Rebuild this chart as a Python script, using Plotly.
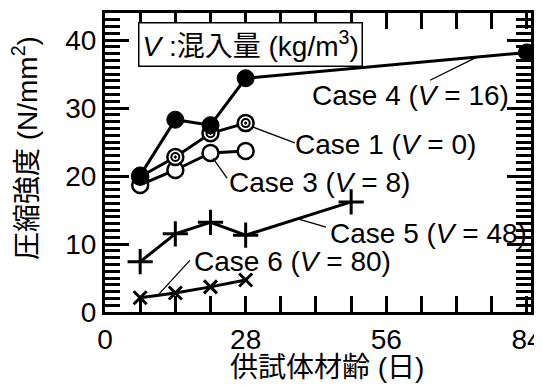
import plotly.graph_objects as go

# ---- data ----
case1_days = [7, 14, 21, 28]
case1_vals = [19.9, 22.8, 26.3, 27.8]
case3_days = [7, 14, 21, 28]
case3_vals = [18.7, 20.9, 23.4, 23.7]
case4_days = [7, 14, 21, 28, 84]
case4_vals = [20.1, 28.3, 27.5, 34.4, 38.2]
case5_days = [7, 14, 21, 28, 49]
case5_vals = [7.4, 11.5, 13.2, 11.3, 16.2]
case6_days = [7, 14, 21, 28]
case6_vals = [2.1, 2.8, 3.7, 4.7]

labels = ["Case 1", "Case 3", "Case 4", "Case 5", "Case 6"]
v_values = [0, 8, 16, 48, 80]

x_ticks = [0, 28, 56, 84]
y_ticks = [0, 10, 20, 30, 40]

FONT = "Liberation Sans, Arial, Noto Sans CJK JP"
BLACK = "black"
FS = 28

fig = go.Figure()

def add_series(xs, ys, symbol, size, fill, lw=2.5):
    fig.add_trace(go.Scatter(
        x=xs, y=ys, mode="lines+markers",
        line=dict(color=BLACK, width=3),
        marker=dict(symbol=symbol, size=size, color=fill,
                    line=dict(color=BLACK, width=lw)),
        showlegend=False, cliponaxis=False))

add_series(case3_days, case3_vals, "circle", 16, "white")
add_series(case1_days, case1_vals, "circle", 16, "white")
fig.add_trace(go.Scatter(x=case1_days, y=case1_vals, mode="markers",
                         marker=dict(symbol="circle-open-dot", size=8, color=BLACK,
                                     line=dict(color=BLACK, width=2)),
                         showlegend=False, cliponaxis=False))
add_series(case4_days, case4_vals, "circle", 17, BLACK, 1)
add_series(case5_days, case5_vals, "cross-thin", 18, BLACK, 3)
add_series(case6_days, case6_vals, "x-thin", 13, BLACK, 3)

# leader lines (from curve to label) and label positions in data units
leaders = {
    "Case 4": ((74.0, 37.5), (64.7, 34.1)),
    "Case 1": ((29.5, 27.2), (37.8, 24.9)),
    "Case 3": ((21.5, 22.6), (24.3, 19.7)),
    "Case 5": ((38.4, 13.7), (44.0, 12.5)),
    "Case 6": ((10.5, 2.45), (16.9, 7.6)),
}
label_pos = {
    "Case 4": (40.8, 31.8),
    "Case 1": (37.4, 24.6),
    "Case 3": (24.3, 19.0),
    "Case 5": (44.4, 11.5),
    "Case 6": (17.3, 7.5),
}

for name, v in zip(labels, v_values):
    (x0, y0), (x1, y1) = leaders[name]
    fig.add_shape(type="line", xref="x", yref="y", x0=x0, y0=y0, x1=x1, y1=y1,
                  line=dict(color=BLACK, width=1.3))
    lx, ly = label_pos[name]
    fig.add_annotation(x=lx, y=ly, xref="x", yref="y", xanchor="left", yanchor="middle",
                       text=f"{name} (<i>V</i> = {v})", showarrow=False,
                       font=dict(family=FONT, size=FS, color=BLACK))

# legend box
fig.add_annotation(x=0.0775, y=0.97, xref="paper", yref="paper",
                   xanchor="left", yanchor="top",
                   text="<i>V</i> :混入量 (kg/m<sup>3</sup>)", showarrow=False,
                   font=dict(family=FONT, size=FS, color=BLACK),
                   bgcolor="white", bordercolor=BLACK, borderwidth=1.5, borderpad=3)

# axis titles
fig.add_annotation(x=-0.188, y=0.548, xref="paper", yref="paper",
                   xanchor="center", yanchor="middle", textangle=-90,
                   text="圧縮強度 (N/mm<sup>2</sup>)", showarrow=False,
                   font=dict(family=FONT, size=FS, color=BLACK))
fig.add_annotation(x=0.521, y=-0.185, xref="paper", yref="paper",
                   xanchor="center", yanchor="middle",
                   text="供試体材齢 (日)", showarrow=False,
                   font=dict(family=FONT, size=FS, color=BLACK))

fig.update_xaxes(range=[0, 84.8], tickvals=x_ticks, ticks="inside", ticklen=16,
                 tickwidth=3, tickcolor=BLACK, showline=True, linewidth=3,
                 linecolor=BLACK, mirror="allticks", showgrid=False, zeroline=False,
                 automargin=False, ticklabeloverflow="allow",
                 minor=dict(dtick=7, tick0=0, ticks="inside", ticklen=16, tickwidth=3,
                            tickcolor=BLACK, showgrid=False),
                 tickfont=dict(family=FONT, size=FS, color=BLACK))
fig.update_yaxes(range=[0, 44], tickvals=y_ticks, ticks="inside", ticklen=24,
                 tickwidth=2.5, tickcolor=BLACK, showline=True, linewidth=3,
                 linecolor=BLACK, mirror="allticks", showgrid=False, zeroline=False,
                 automargin=False, ticklabeloverflow="allow",
                 minor=dict(dtick=1, tick0=0, ticks="inside", ticklen=15, tickwidth=2.5,
                            tickcolor=BLACK, showgrid=False),
                 tickfont=dict(family=FONT, size=FS, color=BLACK))

# page body has an 8px default margin, so the figure is sized/offset to compensate
fig.update_layout(width=534, height=377, margin=dict(l=97, r=11, t=5, b=73),
                  plot_bgcolor="white", paper_bgcolor="white",
                  font=dict(family=FONT, color=BLACK))

fig.write_html("out.html")
